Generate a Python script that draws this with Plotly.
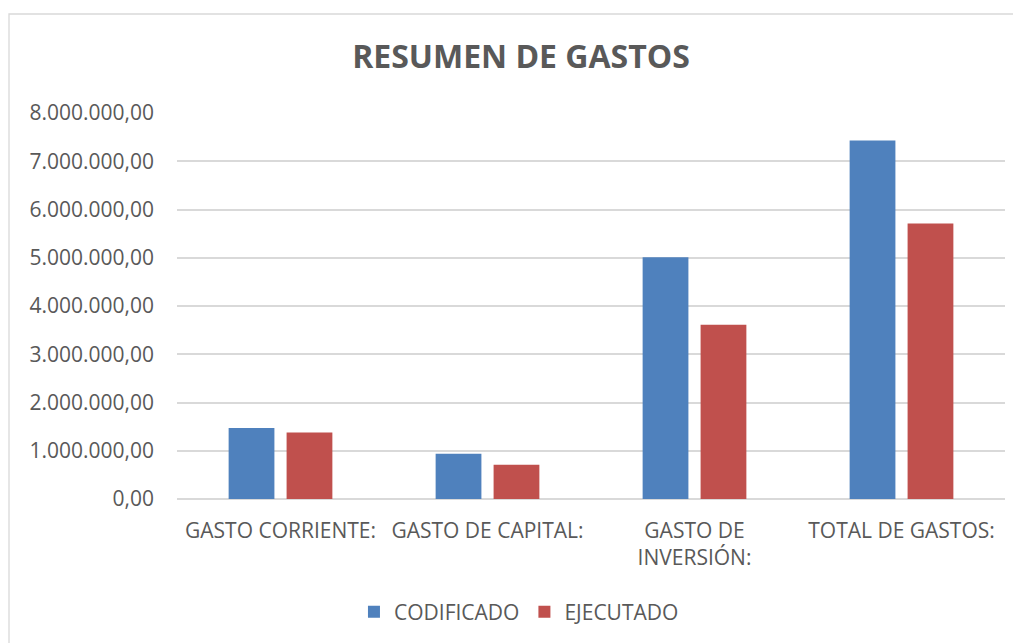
import plotly.graph_objects as go

categories = ["GASTO CORRIENTE:", "GASTO DE CAPITAL:", "GASTO DE<br>INVERSIÓN:", "TOTAL DE GASTOS:"]
codificado = [1470000, 940000, 5010000, 7430000]
ejecutado = [1380000, 710000, 3610000, 5710000]
y_ticks = [0, 1000000, 2000000, 3000000, 4000000, 5000000, 6000000, 7000000, 8000000]

FONT = "Open Sans"
GREY = "#595959"

# page body has an 8px margin; figure coords = screen coords - 8
L, T = 169, 105
PW, PH = 828, 386

fig = go.Figure()
fig.add_trace(go.Bar(x=categories, y=codificado, name="CODIFICADO",
                     marker=dict(color="#4F81BD", line=dict(width=0))))
fig.add_trace(go.Bar(x=categories, y=ejecutado, name="EJECUTADO",
                     marker=dict(color="#C0504D", line=dict(width=0))))

fig.update_layout(
    width=1021, height=643,
    margin=dict(l=L, r=1021 - L - PW, t=T, b=643 - T - PH),
    paper_bgcolor="white", plot_bgcolor="white",
    separators=",.",
    barmode="group", bargap=0.44, bargroupgap=0.21,
    font=dict(family=FONT, size=21, color=GREY),
    title=dict(text="<b>RESUMEN DE GASTOS</b>", font=dict(family=FONT, size=32, color=GREY),
               x=513/1021, xref="container", xanchor="center",
               y=1-49/643, yref="container", yanchor="middle"),
    legend=dict(orientation="h", x=0.413, xanchor="center", y=-0.293, yanchor="middle",
                font=dict(family=FONT, size=21, color=GREY), itemwidth=30,
                traceorder="normal"),
    showlegend=True,
)
fig.update_yaxes(range=[0, 8000000], tickvals=y_ticks, tickformat=",.2f",
                 showgrid=True, gridcolor="#d9d9d9", gridwidth=1.5,
                 zeroline=True, zerolinecolor="#d9d9d9", zerolinewidth=1.5,
                 showline=False, ticks="", ticklabelstandoff=22,
                 tickfont=dict(family=FONT, size=21, color=GREY))
fig.update_xaxes(showline=False, ticks="", ticklabelstandoff=17,
                 tickfont=dict(family=FONT, size=21, color=GREY), tickangle=0)
fig.add_shape(type="rect", xref="paper", yref="paper",
              x0=(1 - L) / PW, x1=1.1, y0=-0.5, y1=(T + PH - 6) / PH,
              line=dict(color="#d9d9d9", width=1.3), fillcolor="rgba(0,0,0,0)", layer="below")

fig.write_html("out.html")
